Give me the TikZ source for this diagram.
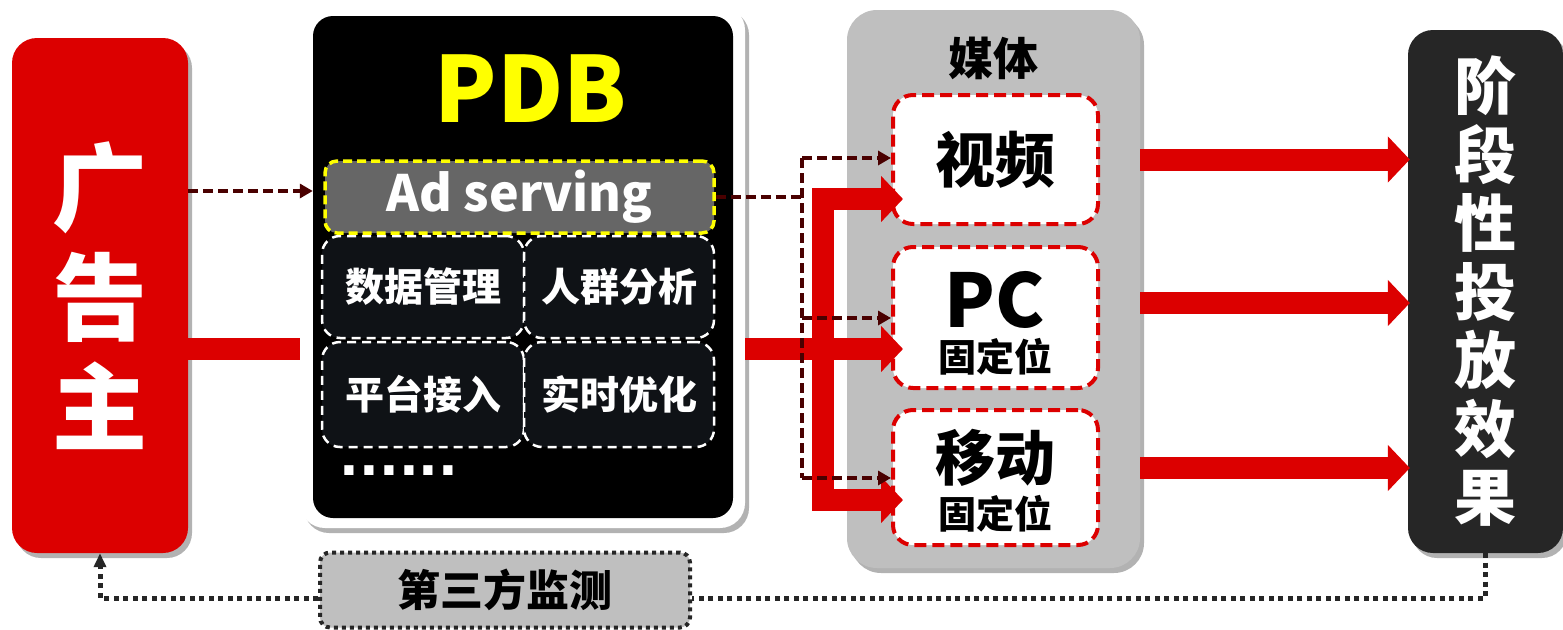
\documentclass[tikz,border=0pt]{standalone}
\usepackage{fontspec}
\setmainfont{Noto Sans CJK SC}
\newfontfamily\dvfont{DejaVu Sans}
\usetikzlibrary{arrows.meta,shadows}
\definecolor{advred}{HTML}{DC0000}
\definecolor{dred}{HTML}{4A0000}
\definecolor{midgray}{HTML}{BFBFBF}
\definecolor{adgray}{HTML}{666666}
\definecolor{subfill}{HTML}{0F1216}
\definecolor{darkbox}{HTML}{262626}
\definecolor{ylw}{HTML}{FFFF00}
\begin{document}
\begin{tikzpicture}[x=1pt,y=-1pt,
  shad/.style={drop shadow={shadow xshift=4pt,shadow yshift=-5pt,opacity=0.3,fill=black}},
  bigbox/.style={inner sep=0pt,rounded corners=#1},
  subbox/.style={draw=white,fill=subfill,line width=2.5pt,dash pattern=on 9pt off 6pt,rounded corners=18pt,inner sep=0pt,text=white,font=\fontsize{39}{39}\selectfont\bfseries},
  medbox/.style={draw=advred,fill=white,line width=4pt,dash pattern=on 12pt off 6pt,rounded corners=20pt,inner sep=0pt,minimum width=205pt},
  redline/.style={draw=advred,line width=22pt,line join=miter},
  redtip/.style={-{Triangle[length=22pt,width=45pt]}},
  dline/.style={draw=dred,line width=3.5pt,dash pattern=on 10pt off 5pt},
  darr/.style={dline,-{Triangle[length=13pt,width=14pt]}},
  dotline/.style={draw=darkbox,line width=5pt,dash pattern=on 5pt off 4.5pt},
]
\useasboundingbox (0,0) rectangle (1563,629);
\coordinate (rowmid) at (0,349);
\coordinate (mline) at (0,598);
% advertiser
\node[bigbox=25pt,fill=advred,shad,minimum width=176pt,minimum height=515pt,text=white,align=center,font=\fontsize{95}{110}\selectfont\bfseries] (adv) at (100,295.5) {广\\告\\主};
% red link adv -> pdb
\draw[redline] (adv.east|-rowmid) -- (320,349);
% PDB
\node[bigbox=25pt,fill=white,shad,minimum width=445pt,minimum height=523pt] (pdbouter) at (522.5,266.5) {};
\node[bigbox=20pt,fill=black,minimum width=420pt,minimum height=502pt] (pdb) at (523,267) {};
\node[text=ylw,font=\fontsize{91}{91}\selectfont\bfseries] (pdbtitle) at (531,89) {PDB};
\node[subbox,minimum width=202pt,minimum height=102pt] (s1) at (423,287) {数据管理};
\node[subbox,minimum width=190pt,minimum height=102pt] (s2) at (619,287) {人群分析};
\node[subbox,minimum width=202pt,minimum height=105pt] (s3) at (423,394.5) {平台接入};
\node[subbox,minimum width=190pt,minimum height=105pt] (s4) at (619,394.5) {实时优化};
\node[draw=ylw,fill=adgray,line width=3.5pt,dash pattern=on 9pt off 5pt,rounded corners=12pt,inner sep=0pt,minimum width=389pt,minimum height=72pt,text=white,font=\fontsize{50}{50}\selectfont\bfseries] (ads) at (519.5,197) {Ad serving};
\node[text=white,anchor=base,inner sep=0pt,font=\dvfont\fontsize{52}{52}\selectfont\bfseries] (dots) at (399,475) {......};
% media
\node[bigbox=30pt,fill=midgray,shad,minimum width=293pt,minimum height=558pt] (media) at (993.5,289) {};
\node[font=\fontsize{45}{45}\selectfont\bfseries] (mediatitle) at (993,58) {媒体};
\node[medbox,minimum height=129pt] (v) at (995.5,159.5) {};
\node[font=\fontsize{60}{60}\selectfont\bfseries] (vt) at (995,160) {视频};
\node[medbox,minimum height=141pt] (pc) at (995.5,317.5) {};
\node[font=\fontsize{74}{74}\selectfont\bfseries] (pct) at (995,300) {PC};
\node[font=\fontsize{38}{38}\selectfont\bfseries] (pcs) at (995,357) {固定位};
\node[medbox,minimum height=135pt] (mob) at (995.5,477.5) {};
\node[font=\fontsize{60}{60}\selectfont\bfseries] (mobt) at (995,458) {移动};
\node[font=\fontsize{38}{38}\selectfont\bfseries] (mobs) at (995,514) {固定位};
% result
\node[bigbox=25pt,fill=darkbox,shad,minimum width=155pt,minimum height=523pt,text=white,align=center,font=\fontsize{62}{68.5}\selectfont\bfseries] (res) at (1485.5,291.5) {阶\\段\\性\\投\\放\\效\\果};
% monitor
\node[draw=darkbox,fill=midgray,line width=4pt,dash pattern=on 4pt off 4pt,rounded corners=10pt,inner sep=0pt,minimum width=370pt,minimum height=75pt,font=\fontsize{43}{43}\selectfont\bfseries] (mon) at (505,590) {第三方监测};
% red arrows
\draw[redline,redtip,shorten >=-12pt] (pdbouter.east|-rowmid) -- (pc.west|-rowmid);
\draw[redline,{Triangle[length=22pt,width=45pt]}-{Triangle[length=22pt,width=45pt]},shorten <=-12pt,shorten >=-12pt] (v.west|-0,199) -- (823,199) -- (823,500) -- (mob.west|-0,500);
\draw[redline,redtip,shorten >=-2pt] (media.east|-v) -- (res.west|-v);
\draw[redline,redtip,shorten >=-2pt] (media.east|-0,303) -- (res.west|-0,303);
\draw[redline,redtip,shorten >=-2pt] (media.east|-0,468) -- (res.west|-0,468);
% dark dashed arrows
\coordinate (jn) at (802,197);
\coordinate (jt) at (802,158);
\coordinate (jm) at (802,318);
\coordinate (jb) at (802,478);
\draw[darr] (adv.east|-0,191) -- (pdb.west|-0,191);
\draw[dline] (ads.east) -- (jn);
\draw[dline] (jt) -- (jb);
\draw[darr] (jt) -- (v.west|-jt);
\draw[darr] (jm) -- (pc.west|-jm);
\draw[darr] (jb) -- (mob.west|-jb);
% monitor dotted loop
\draw[dotline] (res.south) -- (res.south|-mline) -- (mon.east|-mline);
\draw[dotline,-{Triangle[length=14pt,width=12pt]}] (mon.west|-mline) -- (adv.south|-mline) -- (adv.south);
\end{tikzpicture}
\end{document}
